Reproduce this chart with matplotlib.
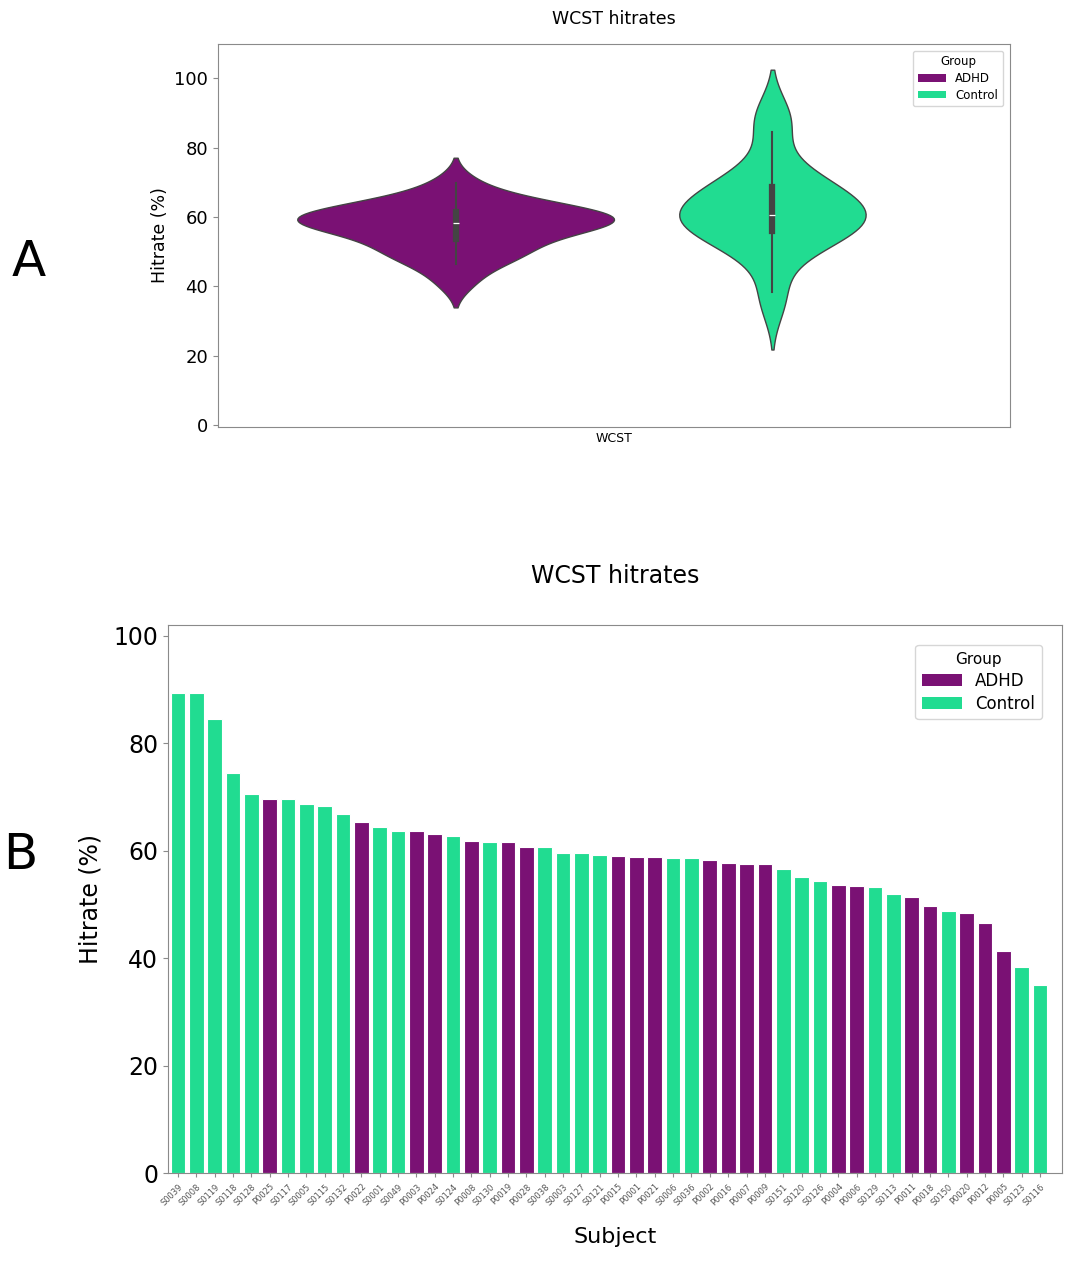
import matplotlib
matplotlib.use("Agg")
import matplotlib.pyplot as plt
from matplotlib.patches import Patch
import pandas as pd
import seaborn as sns

# subjects sorted by hitrate (panel B), group from the ID prefix
subjects = ["S0039", "S0008", "S0119", "S0118", "S0128", "P0025", "S0117", "S0005",
            "S0115", "S0132", "P0022", "S0001", "S0049", "P0003", "P0024", "S0124",
            "P0008", "S0130", "P0019", "P0028", "S0038", "S0003", "S0127", "S0121",
            "P0015", "P0001", "P0021", "S0006", "S0036", "P0002", "P0016", "P0007",
            "P0009", "S0151", "S0120", "S0126", "P0004", "P0006", "S0129", "S0113",
            "P0011", "P0018", "S0150", "P0020", "P0012", "P0005", "S0123", "S0116"]
hitrates = [89.3, 89.3, 84.6, 74.4, 70.6, 69.7, 69.6, 68.7,
            68.4, 66.9, 65.3, 64.5, 63.6, 63.6, 63.05, 62.7,
            61.8, 61.55, 61.55, 60.6, 60.6, 59.5, 59.5, 59.2,
            59.1, 58.9, 58.9, 58.6, 58.6, 58.3, 57.7, 57.5,
            57.5, 56.65, 55.05, 54.4, 53.6, 53.5, 53.2, 51.95,
            51.3, 49.65, 48.8, 48.4, 46.5, 41.3, 38.4, 34.95]
groups = ["ADHD" if s.startswith("P") else "Control" for s in subjects]

colors = {"ADHD": "#7a1174", "Control": "#21dc91"}
grey = "#8a8a8a"

df = pd.DataFrame({"Subject": subjects, "Hitrate": hitrates, "Group": groups})
df["Task"] = "WCST"

fig = plt.figure(figsize=(10.65, 12.65), dpi=100)

# ---- A: violin ----
axA = fig.add_axes([0.2047, 0.6627, 0.7437, 0.3028])
sns.violinplot(data=df, x="Task", y="Hitrate", hue="Group", hue_order=["ADHD", "Control"],
               palette=colors, saturation=1, inner="box", linecolor="#444444",
               linewidth=1, density_norm="area", common_norm=True, legend=False, ax=axA)
axA.set_xlim(-0.5, 0.5)
axA.set_ylim(-0.5, 110)
axA.set_yticks([0, 20, 40, 60, 80, 100])
axA.tick_params(axis="y", labelsize=13, color=grey)
axA.tick_params(axis="x", labelsize=9, length=0)
axA.set_xlabel("")
axA.set_ylabel("Hitrate (%)", fontsize=12.5)
axA.set_title("WCST hitrates", fontsize=12.5, pad=14)
for sp in axA.spines.values():
    sp.set_color(grey)
handles = [Patch(facecolor=colors[g], label=g) for g in ["ADHD", "Control"]]
axA.legend(handles=handles, title="Group", loc="upper right", fontsize=8.5,
           title_fontsize=8.5, handlelength=2.4, handleheight=0.6, labelspacing=0.3,
           borderaxespad=0.6)

# ---- B: bars ----
axB = fig.add_axes([0.1577, 0.0727, 0.8394, 0.4332])
x = range(len(subjects))
axB.bar(x, hitrates, width=0.8, color=[colors[g] for g in groups],
        edgecolor="white", linewidth=0.8)
axB.set_xlim(-0.55, 48.2)
axB.set_ylim(0, 102)
axB.set_xticks(list(x))
axB.set_xticklabels(subjects, rotation=45, ha="right", rotation_mode="anchor",
                    fontsize=6, color="#555555")
axB.set_yticks([0, 20, 40, 60, 80, 100])
axB.tick_params(axis="y", labelsize=17, color=grey)
axB.tick_params(axis="x", color=grey, length=3)
axB.set_ylabel("Hitrate (%)", fontsize=17, labelpad=8)
axB.set_xlabel("Subject", fontsize=16, labelpad=14)
axB.set_title("WCST hitrates", fontsize=17, pad=30)
for sp in axB.spines.values():
    sp.set_color(grey)
axB.legend(handles=handles, title="Group", loc="upper right", fontsize=12,
           title_fontsize=11, handlelength=2.4, handleheight=0.7, labelspacing=0.3,
           borderaxespad=1.2)

fig.text(0.027, 0.793, "A", fontsize=36, va="center", ha="center")
fig.text(0.019, 0.324, "B", fontsize=36, va="center", ha="center")

plt.savefig("out.png", dpi=100)
